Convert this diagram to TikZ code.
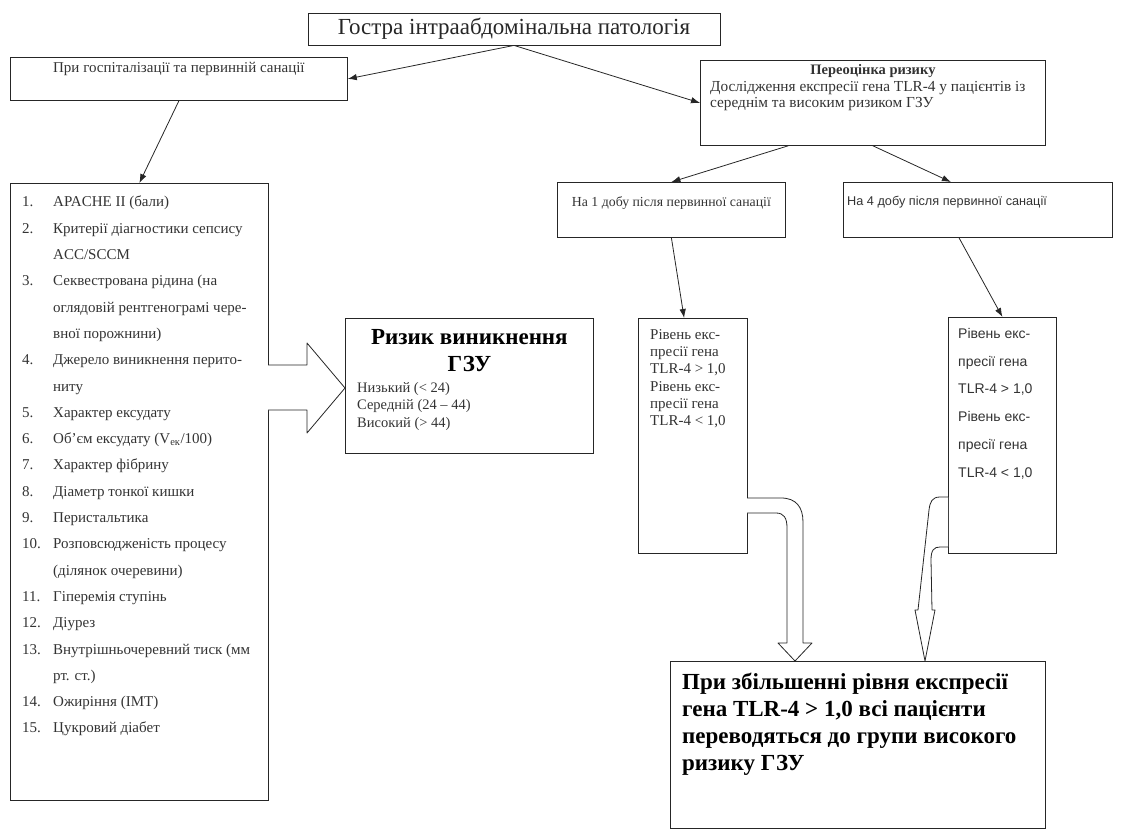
\documentclass[tikz,border=0pt]{standalone}
\usepackage{fontspec}
\setmainfont{Liberation Serif}
\newfontfamily\sansfnt{Liberation Sans}
\usetikzlibrary{calc}
\usetikzlibrary{positioning}
\usetikzlibrary{arrows.meta}

\tikzset{
  frame/.style={draw=black!85,line width=0.8pt,anchor=north west,inner sep=0pt},
  txt/.style={inner sep=0pt,text=black!80},
  conn/.style={-{Latex[length=9pt,width=6.5pt]},line width=0.8pt,draw=black!85},
  blockarrow/.style={draw=black!85,line width=0.8pt,fill=white,line join=round},
}

\begin{document}
\begin{tikzpicture}[x=1pt,y=-1pt]
\useasboundingbox (0,0) rectangle (1122,832);

\node[draw=black!85,line width=0.8pt,inner sep=0pt,minimum width=412pt,minimum height=32pt,font=\fontsize{23}{26}\selectfont,text=black!85] (acute) at (514,29) {Гостра інтраабдомінальна патологія};

\node[frame,minimum width=337pt,minimum height=43pt] (hosp) at (10,57) {};
\node[frame,minimum width=345pt,minimum height=85pt] (reval) at (700,60) {};
\node[frame,minimum width=258pt,minimum height=617pt] (list) at (10,183) {};
\node[frame,minimum width=248pt,minimum height=135pt] (risk) at (345,318) {};
\node[frame,minimum width=228pt,minimum height=55pt] (day1) at (557,182) {};
\node[frame,minimum width=269pt,minimum height=55pt] (day4) at (843,182) {};
\node[frame,minimum width=109pt,minimum height=235pt] (lvl1) at (638,318) {};
\node[frame,minimum width=108pt,minimum height=236pt] (lvl4) at (948,317) {};
\node[frame,minimum width=375pt,minimum height=167pt] (final) at (670,661) {};

% texts
\node[txt,below=5pt of hosp.north,font=\fontsize{15}{18}\selectfont] (hosptext) {При госпіталізації та первинній санації};

\node[txt,below=4pt of reval.north,font=\bfseries\fontsize{14.5}{17}\selectfont] (revaltitle) {Переоцінка ризику};
\node[txt,below right=21pt and 10pt of reval.north west,align=left,font=\fontsize{15.3}{16.5}\selectfont] (revaltext) {Дослідження експресії гена TLR-4 у пацієнтів із\\середнім та високим ризиком ГЗУ};

\node[txt,below right=13pt and 12pt of list.north west,align=left,font=\fontsize{15}{26.3}\selectfont] (listtext) {%
\makebox[31pt][l]{1.}APACHE II (бали)\\
\makebox[31pt][l]{2.}Критерії діагностики сепсису\\
\hspace*{31pt}ACC/SCCM\\
\makebox[31pt][l]{3.}Секвестрована рідина (на\\
\hspace*{31pt}оглядовій рентгенограмі чере-\\
\hspace*{31pt}вної порожнини)\\
\makebox[31pt][l]{4.}Джерело виникнення перито-\\
\hspace*{31pt}ниту\\
\makebox[31pt][l]{5.}Характер ексудату\\
\makebox[31pt][l]{6.}Об’єм ексудату (V\textsubscript{ек}/100)\\
\makebox[31pt][l]{7.}Характер фібрину\\
\makebox[31pt][l]{8.}Діаметр тонкої кишки\\
\makebox[31pt][l]{9.}Перистальтика\\
\makebox[31pt][l]{10.}Розповсюдженість процесу\\
\hspace*{31pt}(ділянок очеревини)\\
\makebox[31pt][l]{11.}Гіперемія ступінь\\
\makebox[31pt][l]{12.}Діурез\\
\makebox[31pt][l]{13.}Внутрішньочеревний тиск (мм\\
\hspace*{31pt}рт. ст.)\\
\makebox[31pt][l]{14.}Ожиріння (ІМТ)\\
\makebox[31pt][l]{15.}Цукровий діабет};

\node[txt,below=11pt of risk.north,align=center,text=black,font=\bfseries\fontsize{23}{27}\selectfont] (risktitle) {Ризик виникнення\\ГЗУ};
\node[txt,below right=64pt and 12pt of risk.north west,align=left,font=\fontsize{14.5}{17.5}\selectfont] (risktext) {Низький (< 24)\\Середній (24 – 44)\\Високий (> 44)};

\node[txt,below=14pt of day1.north,font=\fontsize{13.8}{16}\selectfont] (day1text) {На 1 добу після первинної санації};
\node[txt,below right=14pt and 4pt of day4.north west,font=\sansfnt\fontsize{12.7}{15}\selectfont] (day4text) {На 4 добу після первинної санації};

\node[txt,below right=11pt and 12pt of lvl1.north west,align=left,font=\fontsize{15}{17.3}\selectfont] (lvl1text) {Рівень екс-\\пресії гена\\TLR-4 > 1,0\\Рівень екс-\\пресії гена\\TLR-4 < 1,0};
\node[txt,below right=11pt and 10pt of lvl4.north west,align=left,font=\sansfnt\fontsize{14}{27.8}\selectfont] (lvl4text) {Рівень екс-\\пресії гена\\TLR-4 > 1,0\\Рівень екс-\\пресії гена\\TLR-4 < 1,0};

\node[txt,below right=12pt and 12pt of final.north west,align=left,text=black,font=\bfseries\fontsize{23}{27}\selectfont] (finaltext) {При збільшенні рівня експресії\\гена TLR-4 > 1,0 всі пацієнти\\переводяться до групи високого\\ризику ГЗУ};

% connectors
\draw[conn] (acute.south) -- (hosp.east);
\draw[conn] (acute.south) -- (reval.west);
\draw[conn] (hosp.south) -- (list.north);
\draw[conn] ($(reval.south west)!0.255!(reval.south east)$) -- (day1.north);
\draw[conn] (reval.south) -- ($(day4.north west)!0.4!(day4.north east)$);
\draw[conn] (day1.south) -- ($(lvl1.north west)!0.42!(lvl1.north east)$);
\draw[conn] ($(day4.south west)!0.43!(day4.south east)$) -- (lvl4.north);

% block arrows
\draw[blockarrow] (268,365) -- (307,365) -- (307,343) -- (345,388) -- (307,433) -- (307,410) -- (268,410);
\draw[blockarrow] (747,498) -- (781,498) .. controls (796,498) and (803,507) .. (803,522) -- (803,643) -- (812,643) -- (795,661) -- (778,643) -- (787,643) -- (787,528) .. controls (787,518) and (784,513) .. (776,513) -- (747,513);
\draw[blockarrow] (948,497) -- (940,497) .. controls (932,497) and (930,502) .. (929,510) -- (918,610) -- (915,610) -- (925,661) -- (935,610) -- (932,610) -- (931,560) .. controls (931,550) and (934,547) .. (940,547) -- (948,547);
\end{tikzpicture}
\end{document}
